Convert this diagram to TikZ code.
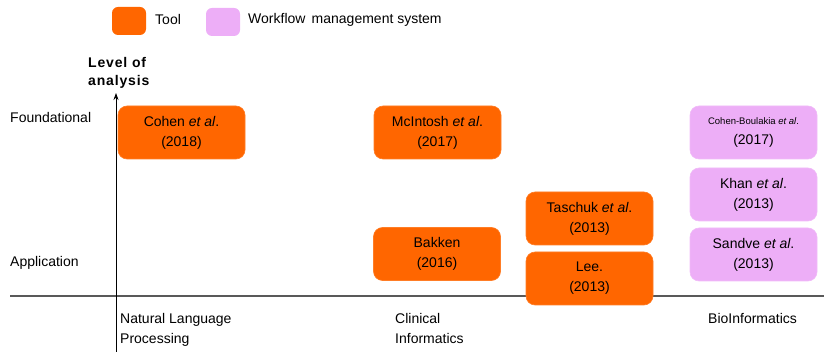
\documentclass[tikz,border=0pt]{standalone}
\usepackage{fontspec}
\setmainfont{Liberation Sans}
\usetikzlibrary{arrows.meta}
\definecolor{toolorange}{HTML}{FF6600}
\definecolor{wmspink}{HTML}{EDAEF7}
\begin{document}
\begin{tikzpicture}[x=1pt,y=-1pt,
  txt/.style={font=\fontsize{14}{20}\selectfont, inner sep=0pt},
  entry/.style={rounded corners=9pt, minimum width=127pt, minimum height=53pt,
    align=center, inner sep=0pt, font=\fontsize{14}{20}\selectfont},
  toolbox/.style={entry, fill=toolorange, draw=toolorange!85!white, line width=0.6pt},
  wmsbox/.style={entry, fill=wmspink, draw=wmspink!85!white, line width=0.6pt},
  legendbox/.style={rounded corners=6pt, minimum width=34pt, minimum height=28pt, inner sep=0pt}]
\useasboundingbox (0,0) rectangle (824,352);

% legend
\node[legendbox, fill=toolorange] (legtool) at (129,21) {};
\node[txt, anchor=west] (legtooltxt) at (155,20) {Tool};
\node[legendbox, fill=wmspink] (legwms) at (223,22) {};
\node[txt, anchor=west] (legwmstxt) at (248,20) {Workflow\, management system};

% axes
\coordinate (ybot) at (116,352);
\coordinate (ytop) at (116,93);
\coordinate (xleft) at (10,296);
\coordinate (xright) at (824,296);
\draw[gray!70!black, line width=1.3pt] (xleft) -- (xright);
\draw[black, line width=0.8pt, -{Stealth[length=7pt,width=5pt]}] (ybot) -- (ytop);
\node[txt, font=\bfseries\fontsize{14}{18}\selectfont, align=left, anchor=north west] (ylabel) at (88,57)
  {\addfontfeature{LetterSpace=6}Level of\\\addfontfeature{LetterSpace=6}analysis};

% levels
\node[txt, anchor=west] (found) at (10,117) {Foundational};
\node[txt, anchor=west] (appl) at (10,263) {Application};

% fields
\node[txt, align=left, anchor=north west] (nlp) at (120,313) {Natural Language\\Processing};
\node[txt, align=left, anchor=north west] (clin) at (395,313) {Clinical\\Informatics};
\node[txt, anchor=north west] (bio) at (708,313) {BioInformatics};

% publications
\node[toolbox] (cohen) at (181.5,132.5) {Cohen \textit{et al}.\\(2018)};
\node[toolbox] (mcintosh) at (437.5,132.5) {McIntosh \textit{et al}.\\(2017)};
\node[toolbox] (bakken) at (437,254) {Bakken\\(2016)};
\node[toolbox] (taschuk) at (589.5,218.5) {Taschuk \textit{et al}.\\(2013)};
\node[toolbox] (lee) at (589.5,278.5) {Lee.\\(2013)};
\node[wmsbox] (cohenb) at (753.5,132.5) {{\fontsize{9.5}{20}\selectfont Cohen-Boulakia \textit{et al}.}\\(2017)};
\node[wmsbox] (khan) at (753.5,194.5) {Khan \textit{et al}.\\(2013)};
\node[wmsbox] (sandve) at (753.5,254.5) {Sandve \textit{et al}.\\(2013)};
\end{tikzpicture}
\end{document}
